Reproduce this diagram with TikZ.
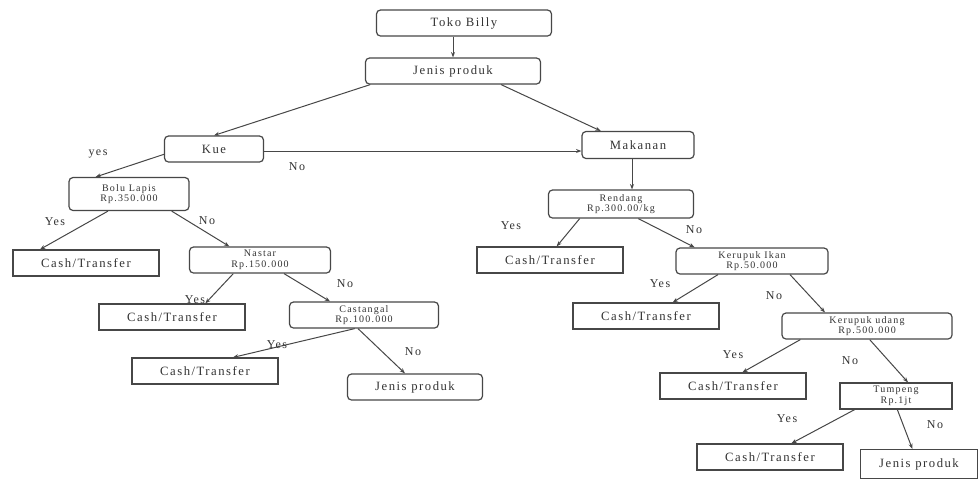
\documentclass[tikz,border=0pt]{standalone}
\usepackage{fontspec}
\setmainfont{Liberation Serif}[LetterSpace=12]
\usetikzlibrary{arrows.meta}
\definecolor{ink}{HTML}{333333}
\definecolor{edge}{HTML}{474747}
\tikzset{
  box/.style={draw=edge, line width=0.9pt, inner sep=0pt, align=center, text=ink, font=\fontsize{9.5}{10}\selectfont},
  rbox/.style={box, rounded corners=3pt},
  sbox/.style={box},
  two/.style={font=\fontsize{7.5}{8}\selectfont},
  cash/.style={sbox, minimum width=109.5pt, minimum height=19.5pt},
  lbl/.style={text=ink, font=\fontsize{9}{10}\selectfont, inner sep=0pt},
  conn/.style={draw=edge, line width=0.75pt, -{Stealth[length=4pt,width=3pt]}}
}
\begin{document}
\begin{tikzpicture}[x=0.75pt,y=-0.75pt]
\useasboundingbox (0,0) rectangle (980,480);
\fill[white] (0,0) rectangle (980,480);
% nodes
\node[rbox, minimum width=131.25pt, minimum height=19.5pt] (tb) at (464,23) {Toko Billy};
\node[rbox, minimum width=131.25pt, minimum height=19.5pt] (jp) at (453,71) {Jenis produk};
\node[rbox, minimum width=74.25pt, minimum height=19.5pt] (kue) at (214,149) {Kue};
\node[rbox, minimum width=84pt, minimum height=20.25pt] (mak) at (638,145) {Makanan};
\node[rbox, two, minimum width=90pt, minimum height=24.75pt] (bolu) at (129,194) {Bolu Lapis\\Rp.350.000};
\node[cash] (c1) at (86,263) {Cash/Transfer};
\node[rbox, two, minimum width=105.75pt, minimum height=19.5pt] (nas) at (260,260) {Nastar\\Rp.150.000};
\node[cash] (c2) at (172,317) {Cash/Transfer};
\node[rbox, two, minimum width=111.75pt, minimum height=19.5pt] (cas) at (364,315) {Castangal\\Rp.100.000};
\node[cash] (c3) at (205,371) {Cash/Transfer};
\node[rbox, minimum width=101.25pt, minimum height=19.5pt] (jpl) at (415,387) {Jenis produk};
\node[rbox, two, minimum width=108.75pt, minimum height=21pt] (ren) at (621,204) {Rendang\\Rp.300.00/kg};
\node[cash] (r1) at (550,260) {Cash/Transfer};
\node[rbox, two, minimum width=114pt, minimum height=19.5pt] (ki) at (752,261) {Kerupuk Ikan\\Rp.50.000};
\node[cash] (r2) at (646,316) {Cash/Transfer};
\node[rbox, two, minimum width=127.5pt, minimum height=19.5pt] (ku) at (867,326) {Kerupuk udang\\Rp.500.000};
\node[cash] (r3) at (733,386) {Cash/Transfer};
\node[sbox, two, minimum width=84pt, minimum height=19.5pt] (tum) at (896,396) {Tumpeng\\Rp.1jt};
\node[cash] (r4) at (770,457) {Cash/Transfer};
\node[sbox, minimum width=87.75pt, minimum height=21.75pt] (jpr) at (919,464) {Jenis produk};
% connectors
\draw[conn] (tb.south -| jp.north) -- (jp.north);
\draw[conn] ([xshift=4pt]jp.south west) -- (kue.north);
\draw[conn] ([xshift=-30pt]jp.south east) -- ([xshift=-28pt]mak.north);
\draw[conn] ([yshift=-1.5pt]kue.east) -- ([yshift=-1.5pt]kue.east -| mak.west);
\draw[conn] ([yshift=-4pt]kue.west) -- ([xshift=-25pt]bolu.north);
\draw[conn] ([xshift=-15.75pt]bolu.south) -- ([xshift=-34.5pt]c1.north);
\draw[conn] ([xshift=32pt]bolu.south) -- ([xshift=-23pt]nas.north);
\draw[conn] ([xshift=-20pt]nas.south) -- ([xshift=25pt]c2.north);
\draw[conn] ([xshift=18pt]nas.south) -- ([xshift=-25.5pt]cas.north);
\draw[conn] ([xshift=-7pt]cas.south) -- ([xshift=21pt]c3.north);
\draw[conn] ([xshift=-4.5pt]cas.south) -- ([xshift=-7.5pt]jpl.north);
\draw[conn] ([xshift=-4.5pt]mak.south) -- ([xshift=-4.5pt]mak.south |- ren.north);
\draw[conn] ([xshift=-31pt]ren.south) -- ([xshift=5pt]r1.north);
\draw[conn] ([xshift=13pt]ren.south) -- ([xshift=-43pt]ki.north);
\draw[conn] ([xshift=-25.5pt]ki.south) -- ([xshift=20pt]r2.north);
\draw[conn] ([xshift=28.5pt]ki.south) -- ([xshift=-31.5pt]ku.north);
\draw[conn] ([xshift=-50pt]ku.south) -- ([xshift=7pt]r3.north);
\draw[conn] ([xshift=2pt]ku.south) -- ([xshift=9pt]tum.north);
\draw[conn] ([xshift=-31pt]tum.south) -- ([xshift=16pt]r4.north);
\draw[conn] ([xshift=1pt]tum.south) -- ([xshift=-5pt]jpr.north);
% labels
\node[lbl] (l1) at (297,167) {No};
\node[lbl] (l2) at (98,154) {yes};
\node[lbl] (l3) at (55,222) {Yes};
\node[lbl] (l4) at (207,221) {No};
\node[lbl] (l5) at (195,300) {Yes};
\node[lbl] (l6) at (345,284) {No};
\node[lbl] (l7) at (277,345) {Yes};
\node[lbl] (l8) at (413,352) {No};
\node[lbl] (l9) at (511,226) {Yes};
\node[lbl] (l10) at (694,230) {No};
\node[lbl] (l11) at (660,284) {Yes};
\node[lbl] (l12) at (774,296) {No};
\node[lbl] (l13) at (733,355) {Yes};
\node[lbl] (l14) at (850,361) {No};
\node[lbl] (l15) at (787,419) {Yes};
\node[lbl] (l16) at (935,425) {No};
\end{tikzpicture}
\end{document}
